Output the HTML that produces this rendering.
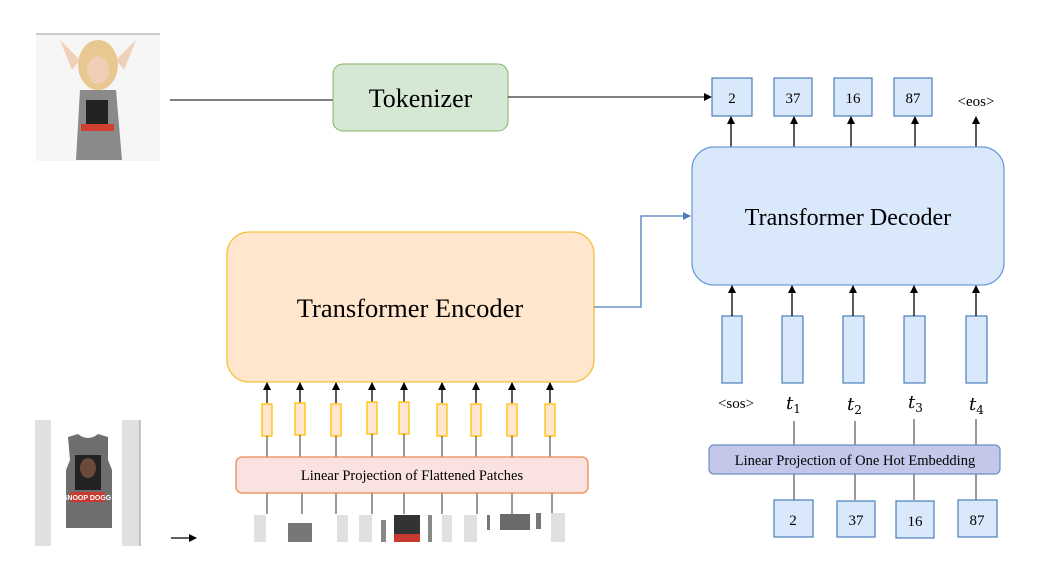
<!DOCTYPE html>
<html><head><meta charset="utf-8"><style>
html,body{margin:0;padding:0;background:#fff;}
svg{display:block;font-family:"Liberation Serif",serif;}
</style></head><body>
<svg width="1056" height="575" viewBox="0 0 1056 575" xmlns="http://www.w3.org/2000/svg">
<defs>
<marker id="a" markerWidth="8" markerHeight="8" refX="7" refY="4" orient="auto" markerUnits="userSpaceOnUse"><path d="M0,0 L8,4 L0,8 z" fill="#000"/></marker>
<marker id="b" markerWidth="8" markerHeight="8" refX="7" refY="4" orient="auto" markerUnits="userSpaceOnUse"><path d="M0,0 L8,4 L0,8 z" fill="#4a7ebb"/></marker>
</defs>
<!-- top photo -->
<rect x="36" y="34" width="124" height="127" fill="#f6f6f6"/>
<line x1="36" y1="34" x2="160" y2="34" stroke="#999"/>
<ellipse cx="98" cy="65" rx="20" ry="25" fill="#e8c890"/>
<ellipse cx="98" cy="70" rx="11" ry="14" fill="#f0cdb5"/>
<path d="M80 90 L116 90 L122 160 L76 160 Z" fill="#8a8a8a"/>
<rect x="86" y="100" width="22" height="25" fill="#222"/>
<rect x="81" y="124" width="33" height="7" fill="#d04030"/>
<path d="M60 40 L72 70 L80 60 Z M136 40 L124 70 L116 60 Z" fill="#f0d0b8"/>
<!-- tokenizer -->
<line x1="170" y1="100" x2="333" y2="100" stroke="#000"/>
<rect x="333" y="64" width="175" height="67" rx="10" fill="#d5e8d4" stroke="#82b366"/>
<text x="420.5" y="107" font-size="26" text-anchor="middle">Tokenizer</text>
<line x1="508" y1="97" x2="711" y2="97" stroke="#000" marker-end="url(#a)"/>
<!-- top tokens -->
<g fill="#dae8fc" stroke="#4a7ebb" stroke-width="1.2">
<rect x="712" y="78" width="40" height="38"/><rect x="774" y="78" width="38" height="38"/>
<rect x="834" y="78" width="38" height="38"/><rect x="894" y="78" width="38" height="38"/>
</g>
<g font-size="15" text-anchor="middle">
<text x="732" y="103">2</text><text x="793" y="103">37</text><text x="853" y="103">16</text><text x="913" y="103">87</text>
<text x="976" y="106">&lt;eos&gt;</text>
</g>
<g stroke="#000" stroke-width="1.3" marker-end="url(#a)">
<line x1="731" y1="147" x2="731" y2="117"/><line x1="794" y1="147" x2="794" y2="117"/>
<line x1="851" y1="147" x2="851" y2="117"/><line x1="915" y1="147" x2="915" y2="117"/>
<line x1="976" y1="147" x2="976" y2="117"/>
</g>
<!-- decoder -->
<rect x="692" y="147" width="312" height="138" rx="22" fill="#dae8fc" stroke="#6c9ed8" stroke-width="1.3"/>
<text x="848" y="225" font-size="24" text-anchor="middle">Transformer Decoder</text>
<!-- encoder -->
<rect x="227" y="232" width="367" height="150" rx="22" fill="#ffe6cc" stroke="#f5c040" stroke-width="1.3"/>
<text x="410" y="317" font-size="26.5" text-anchor="middle">Transformer Encoder</text>
<polyline points="594,307 641,307 641,216 690,216" fill="none" stroke="#4a7ebb" stroke-width="1.3" marker-end="url(#b)"/>
<!-- decoder inputs -->
<g fill="#dae8fc" stroke="#4a7ebb" stroke-width="1.2">
<rect x="722" y="316" width="20" height="67"/><rect x="782" y="316" width="21" height="67"/>
<rect x="843" y="316" width="21" height="67"/><rect x="904" y="316" width="21" height="67"/>
<rect x="966" y="316" width="21" height="67"/>
</g>
<g stroke="#000" stroke-width="1.3" marker-end="url(#a)">
<line x1="732" y1="316" x2="732" y2="286"/><line x1="792" y1="316" x2="792" y2="286"/>
<line x1="853" y1="316" x2="853" y2="286"/><line x1="914" y1="316" x2="914" y2="286"/>
<line x1="976" y1="316" x2="976" y2="286"/>
</g>
<text x="736" y="408" font-size="15" text-anchor="middle">&lt;sos&gt;</text>
<g font-size="18" font-style="italic" font-family="DejaVu Serif,serif">
<text x="786" y="409">t<tspan font-size="12" font-style="normal" dy="4">1</tspan></text>
<text x="847" y="410">t<tspan font-size="12" font-style="normal" dy="4">2</tspan></text>
<text x="908" y="408">t<tspan font-size="12" font-style="normal" dy="4">3</tspan></text>
<text x="969" y="410">t<tspan font-size="12" font-style="normal" dy="4">4</tspan></text>
</g>
<g stroke="#333" stroke-width="1">
<line x1="794" y1="421" x2="794" y2="445"/><line x1="855" y1="421" x2="855" y2="445"/>
<line x1="914" y1="419" x2="914" y2="445"/><line x1="976" y1="419" x2="976" y2="445"/>
<line x1="794" y1="474" x2="794" y2="500"/><line x1="855" y1="474" x2="855" y2="500"/>
<line x1="914" y1="474" x2="914" y2="500"/><line x1="976" y1="474" x2="976" y2="500"/>
</g>
<rect x="709" y="445" width="291" height="29" rx="5" fill="#c3c8ea" stroke="#6c8ebf" stroke-width="1.2"/>
<text x="855" y="465" font-size="14.5" text-anchor="middle">Linear Projection of One Hot Embedding</text>
<g fill="#dae8fc" stroke="#4a7ebb" stroke-width="1.2">
<rect x="774" y="500" width="39" height="37"/><rect x="837" y="501" width="38" height="36"/>
<rect x="896" y="501" width="38" height="37"/><rect x="958" y="500" width="39" height="37"/>
</g>
<g font-size="15" text-anchor="middle">
<text x="793" y="525">2</text><text x="856" y="525">37</text><text x="915" y="526">16</text><text x="977" y="525">87</text>
</g>
<!-- encoder inputs -->
<g stroke="#000" stroke-width="1.3" marker-end="url(#a)">
<line x1="267" y1="403" x2="267" y2="383"/><line x1="300" y1="403" x2="300" y2="383"/>
<line x1="336" y1="403" x2="336" y2="383"/><line x1="372" y1="403" x2="372" y2="383"/>
<line x1="404" y1="403" x2="404" y2="383"/><line x1="442" y1="403" x2="442" y2="383"/>
<line x1="476" y1="403" x2="476" y2="383"/><line x1="512" y1="403" x2="512" y2="383"/>
<line x1="550" y1="403" x2="550" y2="383"/>
</g>
<g fill="#ffe6cc" stroke="#ffc000" stroke-width="1.3">
<rect x="262" y="404" width="10" height="32"/><rect x="295" y="403" width="10" height="32"/>
<rect x="331" y="404" width="10" height="32"/><rect x="367" y="402" width="10" height="32"/>
<rect x="399" y="402" width="10" height="32"/><rect x="437" y="404" width="10" height="32"/>
<rect x="471" y="404" width="10" height="32"/><rect x="507" y="404" width="10" height="32"/>
<rect x="545" y="404" width="10" height="32"/>
</g>
<g stroke="#333" stroke-width="1">
<line x1="267" y1="436" x2="267" y2="457"/><line x1="300" y1="435" x2="300" y2="457"/>
<line x1="336" y1="436" x2="336" y2="457"/><line x1="372" y1="434" x2="372" y2="457"/>
<line x1="404" y1="434" x2="404" y2="457"/><line x1="442" y1="436" x2="442" y2="457"/>
<line x1="476" y1="436" x2="476" y2="457"/><line x1="512" y1="436" x2="512" y2="457"/>
<line x1="550" y1="436" x2="550" y2="457"/>
<line x1="267" y1="493" x2="267" y2="514"/><line x1="302" y1="493" x2="302" y2="514"/>
<line x1="336" y1="493" x2="336" y2="514"/><line x1="372" y1="493" x2="372" y2="514"/>
<line x1="404" y1="493" x2="404" y2="514"/><line x1="442" y1="493" x2="442" y2="514"/>
<line x1="477" y1="493" x2="477" y2="514"/><line x1="512" y1="493" x2="512" y2="514"/>
<line x1="552" y1="493" x2="552" y2="514"/>
</g>
<rect x="236" y="457" width="352" height="36" rx="6" fill="#fae2e0" stroke="#ee8a50" stroke-width="1.3"/>
<text x="412" y="480" font-size="14.5" text-anchor="middle">Linear Projection of Flattened Patches</text>
<!-- patches -->
<g fill="#e0e0e0">
<rect x="254" y="515" width="12" height="27"/><rect x="337" y="515" width="11" height="27"/>
<rect x="359" y="515" width="13" height="27"/><rect x="442" y="515" width="10" height="27"/>
<rect x="464" y="515" width="13" height="27"/><rect x="551" y="513" width="14" height="29"/>
</g>
<rect x="288" y="523" width="24" height="19" fill="#777"/>
<rect x="394" y="515" width="26" height="27" fill="#333"/>
<rect x="394" y="534" width="26" height="8" fill="#c83a30"/>
<rect x="381" y="520" width="5" height="22" fill="#888"/>
<rect x="428" y="515" width="4" height="27" fill="#888"/>
<rect x="500" y="514" width="30" height="16" fill="#6a6a6a"/>
<rect x="487" y="515" width="3" height="15" fill="#777"/>
<rect x="536" y="513" width="5" height="16" fill="#777"/>
<!-- bottom-left shirt image -->
<rect x="35" y="420" width="16" height="126" fill="#e0e0e0"/>
<rect x="122" y="420" width="18" height="126" fill="#e0e0e0"/>
<line x1="140" y1="420" x2="140" y2="546" stroke="#999"/>
<path d="M68 437 L78 434 Q88 442 98 434 L108 437 L108 460 L112 470 L112 528 L66 528 L66 470 L70 460 Z" fill="#6e6e6e"/>
<rect x="75" y="455" width="26" height="35" fill="#222"/>
<ellipse cx="88" cy="468" rx="8" ry="10" fill="#6b4a3a"/>
<rect x="70" y="492" width="35" height="10" fill="#c83a30"/>
<text x="87" y="500" font-size="7" fill="#fff" text-anchor="middle" font-family="Liberation Sans,sans-serif" font-weight="bold">SNOOP DOGG</text>
<line x1="171" y1="538" x2="196" y2="538" stroke="#000" stroke-width="1.3" marker-end="url(#a)"/>
</svg>
</body></html>
